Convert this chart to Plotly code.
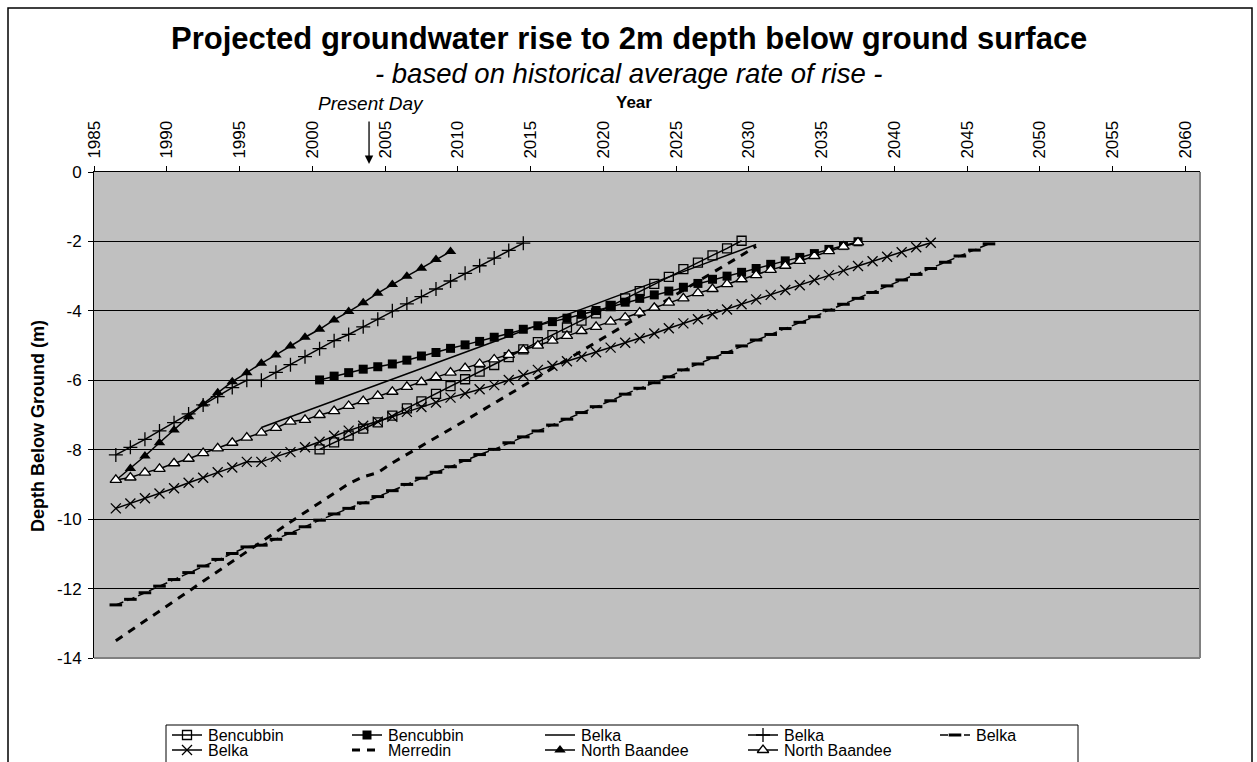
import plotly.graph_objects as go

# ---------------------------------------------------------------- data
# Mid-year observation / projection dates shared by all bores
YEARS = [1986.5, 1987.5, 1988.5, 1989.5, 1990.5, 1991.5, 1992.5, 1993.5, 1994.5,
         1995.5, 1996.5, 1997.5, 1998.5, 1999.5, 2000.5, 2001.5, 2002.5, 2003.5,
         2004.5, 2005.5, 2006.5, 2007.5, 2008.5, 2009.5, 2010.5, 2011.5, 2012.5,
         2013.5, 2014.5, 2015.5, 2016.5, 2017.5, 2018.5, 2019.5, 2020.5, 2021.5,
         2022.5, 2023.5, 2024.5, 2025.5, 2026.5, 2027.5, 2028.5, 2029.5, 2030.5,
         2031.5, 2032.5, 2033.5, 2034.5, 2035.5, 2036.5, 2037.5, 2038.5, 2039.5,
         2040.5, 2041.5, 2042.5, 2043.5, 2044.5, 2045.5, 2046.5]

X_TICKS = [1985, 1990, 1995, 2000, 2005, 2010, 2015, 2020, 2025, 2030,
           2035, 2040, 2045, 2050, 2055, 2060]
Y_TICKS = [0, -2, -4, -6, -8, -10, -12, -14]
PRESENT_DAY = 2003.9

# depth below ground (m), one value per year from each series' first year
bencubbin_open = [-7.99, -7.79, -7.59, -7.39, -7.21, -7.02, -6.81, -6.61, -6.39, -6.17,
                  -5.97, -5.75, -5.56, -5.33, -5.11, -4.90, -4.70, -4.48, -4.28, -4.07,
                  -3.86, -3.64, -3.43, -3.22, -3.02, -2.80, -2.61, -2.40, -2.20, -1.98]
bencubbin_filled = [-5.99, -5.88, -5.78, -5.68, -5.61, -5.53, -5.42, -5.30, -5.20, -5.08,
                    -4.98, -4.88, -4.76, -4.65, -4.53, -4.43, -4.31, -4.21, -4.10, -3.99,
                    -3.87, -3.75, -3.64, -3.54, -3.43, -3.32, -3.21, -3.09, -3.00, -2.89,
                    -2.78, -2.66, -2.56, -2.46, -2.35, -2.23, -2.12, -2.01]
belka_line = [-7.36, -7.21, -7.05, -6.90, -6.74, -6.59, -6.43, -6.28, -6.12, -5.97,
              -5.81, -5.66, -5.50, -5.35, -5.19, -5.04, -4.88, -4.73, -4.57, -4.42,
              -4.26, -4.11, -3.95, -3.80, -3.64, -3.49, -3.33, -3.18, -3.02, -2.87,
              -2.71, -2.56, -2.40, -2.25, -2.09]
belka_plus = [-8.15, -7.93, -7.70, -7.46, -7.22, -6.97, -6.71, -6.47, -6.21, -6.00,
              -6.00, -5.77, -5.55, -5.32, -5.09, -4.86, -4.68, -4.46, -4.24, -4.00,
              -3.80, -3.59, -3.37, -3.14, -2.92, -2.70, -2.48, -2.26, -2.05]
belka_dashed = [-12.47, -12.31, -12.12, -11.93, -11.74, -11.54, -11.35, -11.16, -10.99,
                -10.80, -10.75, -10.58, -10.41, -10.22, -10.03, -9.85, -9.69, -9.53,
                -9.35, -9.18, -9.00, -8.82, -8.65, -8.49, -8.31, -8.14, -7.99, -7.80,
                -7.63, -7.46, -7.29, -7.12, -6.93, -6.76, -6.59, -6.40, -6.23, -6.07,
                -5.90, -5.70, -5.53, -5.35, -5.20, -5.01, -4.84, -4.68, -4.51, -4.33,
                -4.17, -3.98, -3.81, -3.64, -3.47, -3.28, -3.11, -2.95, -2.78, -2.60,
                -2.42, -2.25, -2.07]
belka_cross = [-9.69, -9.55, -9.40, -9.26, -9.11, -8.95, -8.81, -8.65, -8.51,
               -8.35, -8.35, -8.20, -8.07, -7.93, -7.77, -7.60, -7.45, -7.31, -7.19,
               -7.05, -6.91, -6.77, -6.64, -6.50, -6.38, -6.26, -6.14, -5.99, -5.85,
               -5.70, -5.58, -5.45, -5.32, -5.19, -5.06, -4.92, -4.79, -4.65, -4.50,
               -4.36, -4.24, -4.10, -3.96, -3.81, -3.67, -3.54, -3.40, -3.26, -3.11,
               -2.97, -2.84, -2.71, -2.57, -2.44, -2.31, -2.17, -2.04]
merredin = [-13.50, -13.22, -12.93, -12.64, -12.36, -12.08, -11.79, -11.51, -11.22,
            -10.94, -10.65, -10.37, -10.08, -9.80, -9.53, -9.26, -8.98, -8.78, -8.66,
            -8.38, -8.14, -7.89, -7.65, -7.41, -7.16, -6.91, -6.66, -6.40, -6.15,
            -5.90, -5.66, -5.42, -5.17, -4.92, -4.67, -4.42, -4.17, -3.92, -3.66,
            -3.41, -3.16, -2.91, -2.65, -2.40, -2.14]
north_baandee_filled = [-8.88, -8.54, -8.18, -7.80, -7.43, -7.05, -6.68, -6.36, -6.04,
                        -5.78, -5.51, -5.27, -5.01, -4.76, -4.53, -4.26, -4.02, -3.77,
                        -3.49, -3.24, -3.00, -2.77, -2.52, -2.29]
north_baandee_open = [-8.87, -8.80, -8.66, -8.55, -8.39, -8.26, -8.10, -7.96, -7.80,
                      -7.65, -7.51, -7.37, -7.19, -7.14, -7.00, -6.89, -6.74, -6.60,
                      -6.45, -6.33, -6.19, -6.05, -5.91, -5.78, -5.65, -5.53, -5.40,
                      -5.27, -5.13, -5.00, -4.86, -4.72, -4.58, -4.46, -4.31, -4.19,
                      -4.05, -3.91, -3.76, -3.64, -3.49, -3.37, -3.23, -3.09, -2.97,
                      -2.82, -2.70, -2.56, -2.42, -2.28, -2.15, -2.03]

SERIES_NAMES = ["Bencubbin", "Bencubbin", "Belka", "Belka", "Belka",
                "Belka", "Merredin", "North Baandee", "North Baandee"]
FIRST_YEAR = [2000.5, 2000.5, 1996.5, 1986.5, 1986.5, 1986.5, 1986.5, 1986.5, 1986.5]
DEPTHS = [bencubbin_open, bencubbin_filled, belka_line, belka_plus, belka_dashed,
          belka_cross, merredin, north_baandee_filled, north_baandee_open]

# ---------------------------------------------------------------- styling
FONT = "Liberation Sans, Arial, Helvetica, sans-serif"
W, H = 1257, 762
PL, PR, PT, PB = 94, 1200, 172, 658          # plot area in pixels

LINE_W = 1.5
STYLES = [
    dict(mode="lines+markers", line=dict(color="black", width=LINE_W),
         marker=dict(symbol="square-open", size=9, color="black", line=dict(width=1.3))),
    dict(mode="lines+markers", line=dict(color="black", width=LINE_W),
         marker=dict(symbol="square", size=9, color="black")),
    dict(mode="lines", line=dict(color="black", width=LINE_W)),
    dict(mode="lines+markers", line=dict(color="black", width=LINE_W),
         marker=dict(symbol="cross-thin", size=10, color="black",
                     line=dict(width=1.3, color="black"))),
    dict(mode="lines+markers", line=dict(color="black", width=LINE_W, dash="8px,4px"),
         marker=dict(symbol="line-ew", size=9, color="black",
                     line=dict(width=3, color="black"))),
    dict(mode="lines+markers", line=dict(color="black", width=LINE_W),
         marker=dict(symbol="x-thin", size=10, color="black",
                     line=dict(width=1.3, color="black"))),
    dict(mode="lines", line=dict(color="black", width=3, dash="8px,7px")),
    dict(mode="lines+markers", line=dict(color="black", width=LINE_W),
         marker=dict(symbol="triangle-up", size=10, color="black")),
    dict(mode="lines+markers", line=dict(color="black", width=LINE_W),
         marker=dict(symbol="triangle-up", size=10, color="white",
                     line=dict(width=1.3, color="black"))),
]

# legend grid (pixel positions of the key symbols)
LEGEND_BOX = (166, 725, 1078, 790)
LEGEND_COLS = [172, 352, 545, 748, 940]
LEGEND_ROWS = [735, 750]
KEY_LEN = 30
LEGEND_FONT = 16

fig = go.Figure()

# data series on the main axes
for name, start, depth, style in zip(SERIES_NAMES, FIRST_YEAR, DEPTHS, STYLES):
    i0 = YEARS.index(start)
    fig.add_trace(go.Scatter(
        x=YEARS[i0:i0 + len(depth)], y=depth, name=name,
        showlegend=False, cliponaxis=False, **style))

# legend keys, drawn on a pixel-space overlay axis pair (x2 / y2)
for i, (name, style) in enumerate(zip(SERIES_NAMES, STYLES)):
    cx = LEGEND_COLS[i % 5]
    cy = LEGEND_ROWS[i // 5]
    key = dict(style)
    if "marker" in key:
        key["marker"] = dict(key["marker"], opacity=[0, 1, 0])
    fig.add_trace(go.Scatter(
        x=[cx, cx + KEY_LEN / 2, cx + KEY_LEN], y=[cy, cy, cy],
        xaxis="x2", yaxis="y2", showlegend=False, hoverinfo="skip", **key))
    fig.add_annotation(text=name, xref="x2", yref="y2", x=cx + KEY_LEN + 4, y=cy,
                       xanchor="left", yanchor="middle", showarrow=False,
                       font=dict(family=FONT, size=LEGEND_FONT, color="black"))

axis_font = dict(family=FONT, size=17, color="black")

fig.update_layout(
    width=W, height=H,
    margin=dict(l=0, r=0, t=0, b=0, autoexpand=False),
    paper_bgcolor="white",
    plot_bgcolor="rgba(0,0,0,0)",
    font=dict(family=FONT, color="black"),
    showlegend=False,
    xaxis=dict(domain=[PL / W, PR / W], anchor="y",
               range=[1985, 2061], side="top", tickmode="array",
               tickvals=X_TICKS, ticktext=[str(t) for t in X_TICKS],
               tickangle=-90, ticks="outside", ticklen=5, tickcolor="black",
               showline=True, linecolor="black", linewidth=1,
               showgrid=False, zeroline=False, tickfont=axis_font,
               ticklabelstandoff=4),
    yaxis=dict(domain=[1 - PB / H, 1 - PT / H], anchor="x",
               range=[-14, 0], tickmode="array", tickvals=Y_TICKS,
               ticktext=[str(t) for t in Y_TICKS],
               ticks="outside", ticklen=5, tickcolor="black",
               showline=True, linecolor="black", linewidth=1,
               showgrid=True, gridcolor="black", gridwidth=1,
               zeroline=False, tickfont=axis_font, ticklabelstandoff=3),
    xaxis2=dict(domain=[0, 1], anchor="y2", range=[0, W], visible=False,
                fixedrange=True),
    yaxis2=dict(domain=[0, 1], anchor="x2", range=[H, 0], visible=False,
                fixedrange=True),
)

# grey plot area
fig.add_shape(type="rect", xref="x", yref="y", x0=1985, x1=2061, y0=-14, y1=0,
              fillcolor="#C0C0C0", line=dict(width=0), layer="below")
# plot-area edges (right and bottom in grey)
fig.add_shape(type="line", xref="x2", yref="y2", x0=PR, x1=PR, y0=PT, y1=PB,
              line=dict(color="#808080", width=2), layer="above")
fig.add_shape(type="line", xref="x2", yref="y2", x0=PL, x1=PR, y0=PB, y1=PB,
              line=dict(color="#808080", width=2), layer="above")
# legend box
fig.add_shape(type="rect", xref="x2", yref="y2",
              x0=LEGEND_BOX[0], y0=LEGEND_BOX[1], x1=LEGEND_BOX[2], y1=LEGEND_BOX[3],
              fillcolor="white", line=dict(color="black", width=1), layer="below")
# outer chart frame
fig.add_shape(type="rect", xref="x2", yref="y2", x0=8, x1=1252, y0=8, y1=790,
              line=dict(color="black", width=1.5), fillcolor="rgba(0,0,0,0)",
              layer="above")

# titles and labels
fig.add_annotation(text="<b>Projected groundwater rise to 2m depth below ground surface</b>",
                   xref="x2", yref="y2", x=629, y=38,
                   xanchor="center", yanchor="middle", showarrow=False,
                   font=dict(family=FONT, size=31, color="black"))
fig.add_annotation(text="<i>- based on historical average rate of rise -</i>",
                   xref="x2", yref="y2", x=628, y=73,
                   xanchor="center", yanchor="middle", showarrow=False,
                   font=dict(family=FONT, size=27.5, color="black"))
fig.add_annotation(text="<b>Year</b>", xref="x2", yref="y2",
                   x=634, y=102, xanchor="center", yanchor="middle",
                   showarrow=False, font=dict(family=FONT, size=17, color="black"))
fig.add_annotation(text="<b>Depth Below Ground (m)</b>", xref="x2", yref="y2",
                   x=38, y=426, xanchor="center", yanchor="middle",
                   textangle=-90, showarrow=False,
                   font=dict(family=FONT, size=18, color="black"))
fig.add_annotation(text="<i>Present Day</i>", xref="x2", yref="y2",
                   x=371, y=103, xanchor="center", yanchor="middle",
                   showarrow=False, font=dict(family=FONT, size=19, color="black"))
fig.add_annotation(text="", xref="x", yref="y2", x=PRESENT_DAY, y=164,
                   ax=0, ay=-44, showarrow=True, arrowhead=2, arrowsize=1.3,
                   arrowwidth=1.3, arrowcolor="black", standoff=0)

fig.write_html("out.html")
